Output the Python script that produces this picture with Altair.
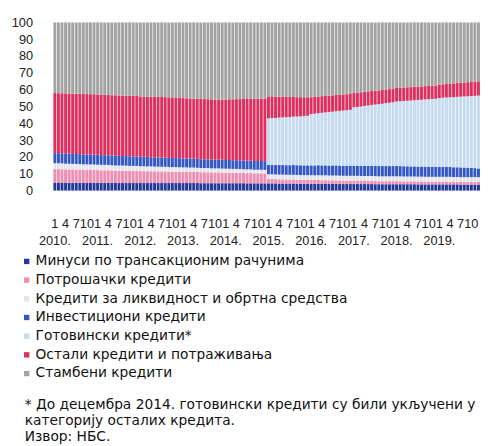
import altair as alt
import pandas as pd

first_year = 2010

series_names = [
    "Минуси по трансакционим рачунима",
    "Потрошачки кредити",
    "Кредити за ликвидност и обртна средства",
    "Инвестициони кредити",
    "Готовински кредити*",
    "Остали кредити и потраживања",
    "Стамбени кредити",
]
series_colors = ["#22399a", "#f08db0", "#e4e4ec", "#3457c6", "#c5dbf2", "#e02f5d", "#a3a3a3"]

minusi = [
    4.8, 4.8, 4.8, 4.7, 4.7, 4.7, 4.7, 4.6, 4.6, 4.6, 4.6, 4.6,
    4.6, 4.6, 4.6, 4.6, 4.6, 4.5, 4.5, 4.5, 4.5, 4.5, 4.5, 4.5,
    4.5, 4.5, 4.5, 4.5, 4.5, 4.5, 4.5, 4.5, 4.5, 4.5, 4.5, 4.5,
    4.5, 4.5, 4.5, 4.5, 4.5, 4.4, 4.4, 4.4, 4.4, 4.4, 4.4, 4.4,
    4.4, 4.4, 4.4, 4.4, 4.4, 4.4, 4.3, 4.3, 4.3, 4.3, 4.3, 4.3,
    4.3, 4.3, 4.3, 4.2, 4.2, 4.2, 4.2, 4.2, 4.1, 4.1, 4.1, 4.1,
    4.1, 4.1, 4.1, 4.0, 4.0, 4.0, 4.0, 4.0, 3.9, 3.9, 3.9, 3.9,
    3.9, 3.9, 3.9, 3.9, 3.9, 3.9, 3.8, 3.8, 3.8, 3.8, 3.8, 3.8,
    3.8, 3.8, 3.8, 3.8, 3.8, 3.8, 3.7, 3.7, 3.7, 3.7, 3.7, 3.7,
    3.7, 3.7, 3.7, 3.7, 3.7, 3.7, 3.6, 3.6, 3.6, 3.6, 3.6, 3.6,
]
potrosacki = [
    8.0, 8.0, 7.9, 7.9, 7.9, 7.8, 7.8, 7.8, 7.7, 7.7, 7.7, 7.6,
    7.6, 7.5, 7.5, 7.5, 7.4, 7.4, 7.3, 7.3, 7.3, 7.2, 7.2, 7.2,
    7.1, 7.1, 7.0, 7.0, 7.0, 6.9, 6.9, 6.9, 6.8, 6.8, 6.8, 6.7,
    6.7, 6.7, 6.6, 6.6, 6.6, 6.5, 6.5, 6.5, 6.4, 6.4, 6.4, 6.3,
    6.3, 6.3, 6.2, 6.2, 6.2, 6.1, 6.1, 6.1, 6.0, 6.0, 6.0, 5.9,
    2.6, 2.6, 2.5, 2.5, 2.5, 2.4, 2.4, 2.4, 2.4, 2.3, 2.3, 2.3,
    2.3, 2.2, 2.2, 2.2, 2.2, 2.1, 2.1, 2.1, 2.1, 2.0, 2.0, 2.0,
    2.0, 2.0, 1.9, 1.9, 1.9, 1.9, 1.9, 1.8, 1.8, 1.8, 1.8, 1.8,
    1.8, 1.8, 1.7, 1.7, 1.7, 1.7, 1.7, 1.7, 1.6, 1.6, 1.6, 1.6,
    1.6, 1.6, 1.6, 1.6, 1.5, 1.5, 1.5, 1.5, 1.5, 1.5, 1.5, 1.5,
]
likvidnost = [
    3.5, 3.5, 3.5, 3.4, 3.4, 3.4, 3.4, 3.4, 3.3, 3.3, 3.3, 3.3,
    3.2, 3.2, 3.2, 3.2, 3.1, 3.1, 3.1, 3.1, 3.0, 3.0, 3.0, 3.0,
    2.9, 2.9, 2.9, 2.9, 2.8, 2.8, 2.8, 2.8, 2.7, 2.7, 2.7, 2.7,
    2.6, 2.6, 2.6, 2.6, 2.5, 2.5, 2.5, 2.5, 2.4, 2.4, 2.4, 2.4,
    2.3, 2.3, 2.3, 2.3, 2.2, 2.2, 2.2, 2.2, 2.1, 2.1, 2.1, 2.1,
    2.8, 2.8, 2.8, 2.8, 2.8, 2.8, 2.8, 2.8, 2.8, 2.8, 2.8, 2.8,
    2.8, 2.8, 2.9, 2.9, 2.9, 2.9, 2.9, 2.9, 2.9, 2.9, 2.9, 2.9,
    2.9, 2.9, 2.9, 2.9, 2.9, 2.9, 2.9, 2.9, 2.9, 2.9, 2.9, 2.9,
    2.9, 2.9, 2.9, 2.9, 2.9, 2.9, 2.9, 2.9, 2.9, 2.9, 2.9, 2.9,
    2.9, 2.9, 2.9, 2.9, 2.9, 2.9, 2.9, 2.9, 2.9, 2.9, 2.9, 2.9,
]
investicioni = [
    6.0, 6.0, 6.0, 6.0, 6.0, 5.9, 5.9, 5.9, 5.9, 5.9, 5.9, 5.9,
    5.9, 5.8, 5.8, 5.8, 5.8, 5.8, 5.7, 5.7, 5.7, 5.7, 5.7, 5.6,
    5.6, 5.6, 5.6, 5.5, 5.5, 5.5, 5.5, 5.5, 5.4, 5.4, 5.4, 5.4,
    5.4, 5.3, 5.3, 5.3, 5.3, 5.3, 5.2, 5.2, 5.2, 5.2, 5.2, 5.2,
    5.2, 5.2, 5.2, 5.2, 5.2, 5.2, 5.2, 5.2, 5.2, 5.2, 5.2, 5.2,
    5.6, 5.6, 5.6, 5.7, 5.7, 5.7, 5.7, 5.8, 5.8, 5.8, 5.8, 5.8,
    5.8, 5.9, 5.9, 5.9, 5.9, 5.9, 6.0, 6.0, 6.0, 6.0, 6.0, 6.0,
    6.0, 6.0, 6.0, 6.1, 6.1, 6.1, 6.1, 6.1, 6.1, 6.1, 6.1, 6.1,
    6.1, 6.1, 6.1, 6.1, 6.0, 6.0, 6.0, 6.0, 6.0, 6.0, 6.0, 5.9,
    5.9, 5.9, 5.9, 5.9, 5.8, 5.8, 5.8, 5.7, 5.6, 5.5, 5.4, 5.2,
]
gotovinski = [
    0.0, 0.0, 0.0, 0.0, 0.0, 0.0, 0.0, 0.0, 0.0, 0.0, 0.0, 0.0,
    0.0, 0.0, 0.0, 0.0, 0.0, 0.0, 0.0, 0.0, 0.0, 0.0, 0.0, 0.0,
    0.0, 0.0, 0.0, 0.0, 0.0, 0.0, 0.0, 0.0, 0.0, 0.0, 0.0, 0.0,
    0.0, 0.0, 0.0, 0.0, 0.0, 0.0, 0.0, 0.0, 0.0, 0.0, 0.0, 0.0,
    0.0, 0.0, 0.0, 0.0, 0.0, 0.0, 0.0, 0.0, 0.0, 0.0, 0.0, 0.0,
    27.7, 27.9, 28.0, 28.2, 28.3, 28.5, 28.6, 28.8, 28.9, 29.1, 29.3, 29.5,
    30.5, 30.8, 31.0, 31.3, 31.5, 31.8, 32.0, 32.3, 32.5, 32.8, 33.0, 33.2,
    34.7, 35.0, 35.3, 35.6, 35.9, 36.2, 36.5, 36.8, 37.1, 37.4, 37.7, 37.9,
    38.4, 38.6, 38.8, 39.0, 39.2, 39.4, 39.6, 39.8, 40.0, 40.1, 40.3, 40.5,
    40.9, 41.1, 41.3, 41.5, 41.7, 41.9, 42.1, 42.3, 42.5, 42.8, 43.0, 43.3,
]
ostali = [
    35.7, 35.7, 35.8, 35.8, 35.8, 35.8, 35.9, 35.9, 35.9, 35.9, 35.9, 35.9,
    35.7, 35.7, 35.8, 35.8, 35.8, 35.9, 35.9, 35.9, 35.9, 36.0, 36.0, 36.0,
    35.9, 35.9, 35.9, 36.0, 36.0, 36.0, 36.0, 36.0, 36.0, 36.0, 36.0, 36.0,
    35.8, 35.8, 35.8, 35.8, 35.8, 35.8, 35.7, 35.7, 35.7, 35.7, 35.7, 35.7,
    36.0, 36.1, 36.2, 36.3, 36.4, 36.5, 36.6, 36.7, 36.9, 37.0, 37.2, 37.3,
    13.0, 12.9, 12.7, 12.5, 12.3, 12.1, 11.9, 11.7, 11.5, 11.3, 11.2, 11.0,
    10.0, 10.0, 9.9, 9.9, 9.8, 9.8, 9.7, 9.7, 9.6, 9.6, 9.5, 9.5,
    8.5, 8.5, 8.5, 8.4, 8.4, 8.3, 8.3, 8.2, 8.2, 8.1, 8.1, 8.0,
    8.0, 8.0, 8.0, 8.0, 8.0, 8.0, 7.9, 7.9, 7.9, 7.9, 7.9, 7.9,
    8.0, 8.0, 8.1, 8.1, 8.2, 8.2, 8.3, 8.3, 8.4, 8.4, 8.5, 8.5,
]
stambeni = [
    42.0, 42.1, 42.2, 42.2, 42.3, 42.4, 42.4, 42.5, 42.6, 42.6, 42.7, 42.7,
    43.0, 43.1, 43.1, 43.2, 43.3, 43.3, 43.4, 43.5, 43.5, 43.6, 43.6, 43.7,
    44.0, 44.1, 44.1, 44.2, 44.3, 44.3, 44.4, 44.5, 44.5, 44.6, 44.6, 44.7,
    45.0, 45.1, 45.2, 45.3, 45.4, 45.5, 45.5, 45.6, 45.7, 45.8, 45.9, 46.0,
    45.8, 45.7, 45.7, 45.6, 45.6, 45.5, 45.5, 45.4, 45.4, 45.3, 45.3, 45.2,
    44.0, 44.0, 44.1, 44.1, 44.2, 44.2, 44.3, 44.3, 44.4, 44.4, 44.5, 44.5,
    44.5, 44.3, 44.1, 43.9, 43.7, 43.5, 43.4, 43.2, 43.0, 42.8, 42.7, 42.5,
    42.0, 41.8, 41.5, 41.3, 41.1, 40.8, 40.6, 40.4, 40.2, 39.9, 39.7, 39.5,
    39.0, 38.9, 38.7, 38.6, 38.5, 38.3, 38.2, 38.1, 37.9, 37.8, 37.6, 37.5,
    37.0, 36.8, 36.6, 36.5, 36.3, 36.1, 35.9, 35.7, 35.5, 35.4, 35.2, 35.0,
]

series_values = [minusi, potrosacki, likvidnost, investicioni, gotovinski, ostali, stambeni]

y_ticks = [0, 0.1, 0.2, 0.3, 0.4, 0.5, 0.6, 0.7, 0.8, 0.9, 1.0]
x_tick_months = [1, 4, 7, 10]

footnote = [
    "* До децембра 2014. готовински кредити су били укључени у",
    "категорију осталих кредита.",
    "Извор: НБС.",
]

rows = []
for k, (name, vals) in enumerate(zip(series_names, series_values)):
    for i, v in enumerate(vals):
        rows.append({"idx": i, "series": name, "rank": k, "value": v})
df = pd.DataFrame(rows)

n_months = len(minusi)
x_tick_idx = [i for i in range(n_months) if (i % 12) + 1 in x_tick_months]

label_expr = (
    f"datum.value % 12 == 0 ? ['1', ({first_year} + floor(datum.value / 12)) + '.'] "
    ": '' + (datum.value % 12 + 1)"
)

bars = alt.Chart(df).mark_bar().encode(
    x=alt.X(
        "idx:O",
        title=None,
        scale=alt.Scale(paddingInner=0.18, paddingOuter=0.05),
        axis=alt.Axis(
            values=x_tick_idx,
            labelExpr=label_expr,
            labelAngle=0,
            ticks=False,
            tickSize=0,
            domain=False,
            labelPadding=28,
            labelFont="Liberation Sans",
            labelFontSize=13,
            labelColor="#222222",
            labelLineHeight=17,
            labelOverlap=False,
            labelBound=False,
            labelFlush=False,
        ),
    ),
    y=alt.Y(
        "value:Q",
        stack="normalize",
        title=None,
        scale=alt.Scale(domain=[0, 1], nice=False),
        axis=alt.Axis(
            values=y_ticks,
            labelExpr="format(datum.value * 100, 'd')",
            ticks=False,
            tickSize=0,
            domain=False,
            grid=False,
            labelPadding=21,
            labelFont="Liberation Sans",
            labelFontSize=13,
            labelColor="#222222",
        ),
    ),
    color=alt.Color(
        "series:N",
        scale=alt.Scale(domain=series_names, range=series_colors),
        legend=alt.Legend(
            title=None,
            orient="none",
            legendX=-34,
            legendY=236,
            direction="vertical",
            symbolType="square",
            symbolSize=30,
            symbolStrokeWidth=0,
            labelFont="DejaVu Sans",
            labelFontSize=14,
            labelColor="#111111",
            labelOffset=2,
            labelLimit=0,
            rowPadding=5,
            padding=0,
        ),
    ),
    order=alt.Order("rank:Q", sort="ascending"),
)

note = alt.Chart(pd.DataFrame({"k": [0]})).mark_text(
    text=footnote,
    align="left",
    baseline="alphabetic",
    font="DejaVu Sans",
    fontSize=14,
    lineHeight=16.5,
    color="#111111",
).encode(x=alt.value(-29), y=alt.value(393))

chart = alt.layer(bars, note).properties(
    width=434,
    height=171,
    autosize=alt.AutoSizeParams(type="none"),
    padding={"left": 46, "top": 11, "right": 6, "bottom": 256},
).configure_view(stroke=None)

chart.save("out.html", embed_options={"renderer": "svg", "actions": False})
